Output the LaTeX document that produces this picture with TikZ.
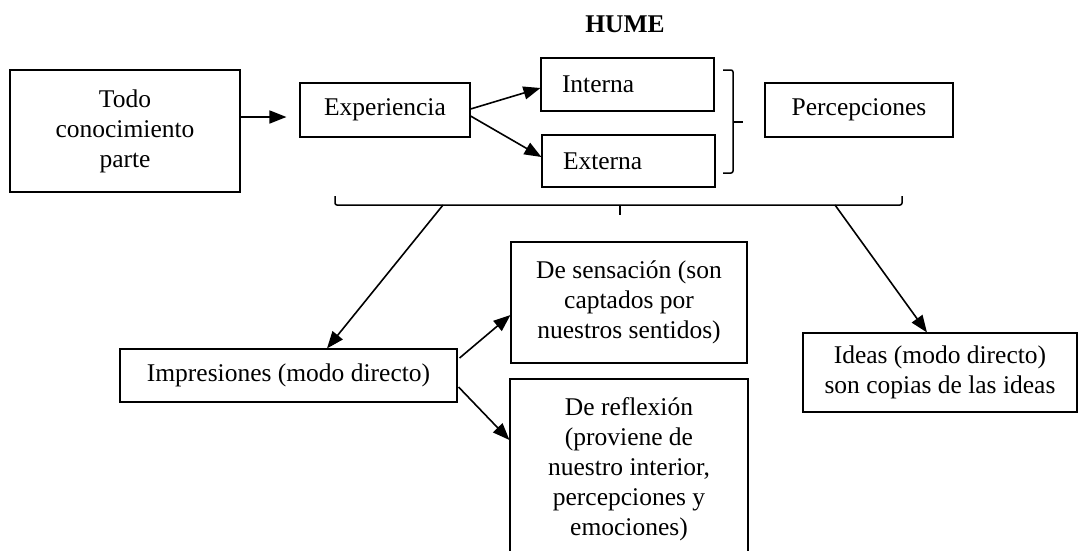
\documentclass[tikz,border=0pt]{standalone}
\usepackage{fontspec}
\setmainfont{Liberation Serif}
\usetikzlibrary{arrows.meta}
\newcommand{\mysz}{\fontsize{25.5}{30}\selectfont}
\tikzset{
  box/.style={draw, line width=1.1pt, inner sep=0pt, align=center, font=\mysz},
  arr/.style={line width=1.6pt, -{Triangle[length=17pt,width=13pt]}},
  brc/.style={line width=1.5pt, rounded corners=2pt},
}
\begin{document}
\begin{tikzpicture}[x=1pt,y=-1pt]
\clip (0,0) rectangle (1080,550);
\fill[white] (0,0) rectangle (1080,550);

\node[font=\mysz\bfseries] (title) at (625,24) {HUME};

\node[box, minimum width=230pt, minimum height=122pt] (todo) at (125,131) {Todo\\conocimiento\\parte};
\node[box, minimum width=170pt, minimum height=54pt] (exp) at (385,110) {Experiencia};
\node[box, minimum height=53pt, text width=131pt, inner xsep=21pt, align=left] (interna) at (627.5,84.5) {Interna};
\node[box, minimum height=52pt, text width=131pt, inner xsep=21pt, align=left] (externa) at (628.5,161) {Externa};
\node[box, minimum width=188pt, minimum height=54pt] (percep) at (859,110) {Percepciones};

\node[box, minimum width=337pt, minimum height=53pt] (impres) at (288.5,375.5) {Impresiones (modo directo)};
\node[box, minimum width=236pt, minimum height=121pt] (sens) at (629,302.5) {De sensación (son\\captados por\\nuestros sentidos)};
\node[box, minimum width=238pt, minimum height=181pt] (reflex) at (629,469.5) {De reflexión\\(proviene de\\nuestro interior,\\percepciones y\\emociones)};
\node[box, minimum width=274pt, minimum height=79pt] (ideas) at (940,372.5) {Ideas (modo directo)\\son copias de las ideas};

% braces
\draw[brc] (723,70) -- (733,70) -- (733,173) -- (723,173);
\draw[line width=1.5pt] (733,122) -- (743,122);
\draw[brc] (335,196) -- (335,205) -- (902,205) -- (902,196);
\draw[line width=1.5pt] (620,205) -- (620,215);
\coordinate (b2l) at (443,205);
\coordinate (b2r) at (835,205);

% arrows
\draw[arr] ([yshift=14pt]todo.east) -- ([xshift=-13pt,yshift=-7pt]exp.west);
\draw[arr] ([yshift=1pt]exp.east) -- ([yshift=-3.5pt]interna.west);
\draw[arr] ([yshift=-6pt]exp.east) -- ([yshift=4pt]externa.west);
\draw[arr] (b2l) -- ([xshift=38.5pt]impres.north);
\draw[arr] (b2r) -- ([xshift=-13pt]ideas.north);
\draw[arr] ([xshift=2pt,yshift=17.5pt]impres.east) -- ([yshift=-12.5pt]sens.west);
\draw[arr] ([xshift=1pt,yshift=-11.5pt]impres.east) -- ([yshift=29.5pt]reflex.west);
\end{tikzpicture}
\end{document}
